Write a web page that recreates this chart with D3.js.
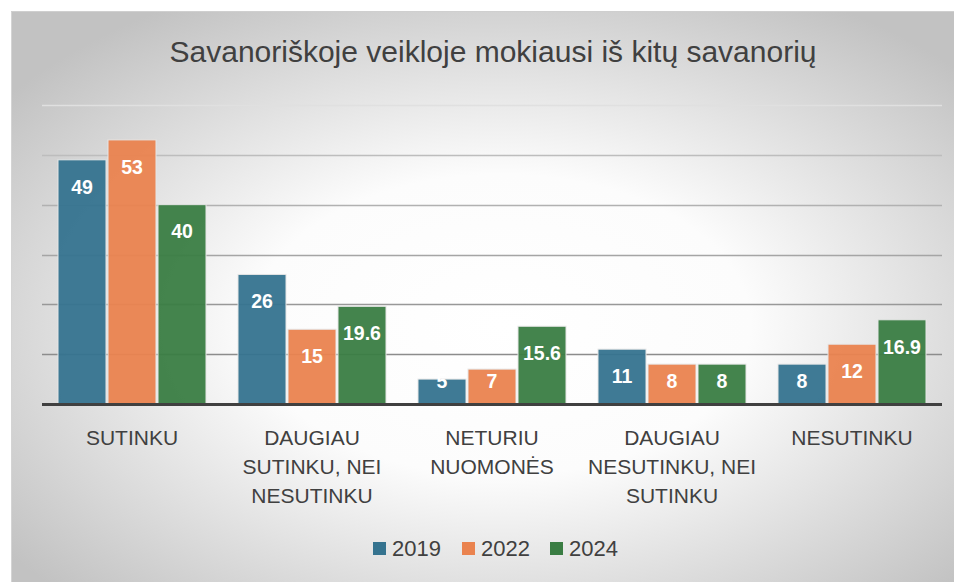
<!DOCTYPE html>
<html><head><meta charset="utf-8">
<script src="https://cdn.jsdelivr.net/npm/d3@7"></script>
<style>
html,body{margin:0;padding:0;background:#fff;}
svg{display:block;font-family:"Liberation Sans",Arial,sans-serif;}
</style></head>
<body>
<svg id="chart" width="954" height="582"></svg>
<script>
const title = "Savanoriškoje veikloje mokiausi iš kitų savanorių";
const categories = ["SUTINKU", "DAUGIAU SUTINKU, NEI NESUTINKU", "NETURIU NUOMONĖS", "DAUGIAU NESUTINKU, NEI SUTINKU", "NESUTINKU"];
const years = ["2019", "2022", "2024"];
const values2019 = [49, 26, 5, 11, 8];
const values2022 = [53, 15, 7, 8, 12];
const values2024 = [40, 19.6, 15.6, 8, 16.9];
const gridTicks = [10, 20, 30, 40, 50, 60];

const series = [values2019, values2022, values2024];
const colors = ["#35738f", "#ea834f", "#3a7d43"];

const svg = d3.select("#chart");
const defs = svg.append("defs");
const grad = defs.append("radialGradient").attr("id","bg")
  .attr("cx","0.52").attr("cy","0.55").attr("r","0.66");
grad.append("stop").attr("offset","0").attr("stop-color","#ffffff");
grad.append("stop").attr("offset","0.4").attr("stop-color","#fcfcfc");
grad.append("stop").attr("offset","1").attr("stop-color","#c2c2c2");

svg.append("rect").attr("x",11).attr("y",11).attr("width",943).attr("height",571)
  .attr("fill","url(#bg)");
svg.append("line").attr("x1",11.5).attr("x2",11.5).attr("y1",11).attr("y2",582).attr("stroke","#d4d4d4");
svg.append("line").attr("x1",11).attr("x2",954).attr("y1",11.5).attr("y2",11.5).attr("stroke","#cfcfcf");

const x0 = d3.scaleBand().domain(categories).range([42, 942]);
const x1 = d3.scaleBand().domain(years).range([16, 164]).paddingInner(0.04);
const y = d3.scaleLinear().domain([0, 60]).range([404, 105]);

// gridlines
const gridColor = d3.scaleLinear().domain([10, 50, 60]).range(["#8c8c8c", "#bdbdbd", "#e0e0e0"]);
svg.append("g").selectAll("line").data(gridTicks).join("line")
  .attr("x1", 42).attr("x2", 942)
  .attr("y1", d => Math.round(y(d)) + 0.5).attr("y2", d => Math.round(y(d)) + 0.5)
  .attr("stroke", d => gridColor(d)).attr("stroke-width", 1.3);

// bars
const groups = svg.append("g").selectAll("g").data(categories).join("g")
  .attr("transform", c => `translate(${x0(c)},0)`);

groups.each(function(c, ci) {
  const g = d3.select(this);
  const rows = years.map((yr, si) => ({yr, si, v: series[si][ci]}));
  g.selectAll("rect").data(rows).join("rect")
    .attr("x", d => x1(d.yr))
    .attr("y", d => y(d.v))
    .attr("width", x1.bandwidth())
    .attr("height", d => y(0) - y(d.v))
    .attr("fill", d => colors[d.si])
    .attr("fill-opacity", 0.95)
    .attr("stroke", "#e6e6e6").attr("stroke-width", 1);
});

// baseline
svg.append("line").attr("x1", 42).attr("x2", 942).attr("y1", y(0)+0.5).attr("y2", y(0)+0.5)
  .attr("stroke", "#404040").attr("stroke-width", 3);

// labels
groups.each(function(c, ci) {
  const g = d3.select(this);
  const rows = years.map((yr, si) => ({yr, si, v: series[si][ci]}));
  g.selectAll("text").data(rows).join("text")
    .attr("x", d => x1(d.yr) + x1.bandwidth()/2)
    .attr("y", d => Math.min(y(d.v) + 27, y(0) - 23))
    .attr("dy", "0.35em")
    .attr("text-anchor", "middle")
    .attr("fill", "#ffffff")
    .attr("font-weight", "bold")
    .attr("font-size", 19.5)
    .text(d => String(d.v));
});

// category labels with wrapping
function wrapLines(text, width, size) {
  const tmp = svg.append("text").attr("font-size", size);
  const words = text.split(" ");
  const lines = [];
  let line = [];
  for (const w of words) {
    const test = line.concat([w]).join(" ");
    tmp.text(test);
    if (tmp.node().getComputedTextLength() > width && line.length) {
      lines.push(line.join(" "));
      line = [w];
    } else line.push(w);
  }
  if (line.length) lines.push(line.join(" "));
  tmp.remove();
  return lines;
}
categories.forEach(c => {
  const lines = wrapLines(c, 172, 21);
  const t = svg.append("text").attr("text-anchor","middle").attr("font-size",21).attr("fill","#404040");
  lines.forEach((ln, i) => {
    t.append("tspan").attr("x", x0(c) + x0.bandwidth()/2).attr("y", 445 + i*29).text(ln);
  });
});

// title
svg.append("text").attr("x", 493).attr("y", 62).attr("text-anchor","middle")
  .attr("font-size", 30).attr("fill","#404040").text(title);

// legend
const legendX = [373, 462, 550];
const lg = svg.append("g").selectAll("g").data(years).join("g")
  .attr("transform", (d,i) => `translate(${legendX[i]},0)`);
lg.append("rect").attr("x",0).attr("y",542).attr("width",13).attr("height",13)
  .attr("fill", (d,i) => colors[i]);
lg.append("text").attr("x",19).attr("y",556).attr("font-size",22).attr("fill","#404040").text(d => d);
</script>
</body></html>
